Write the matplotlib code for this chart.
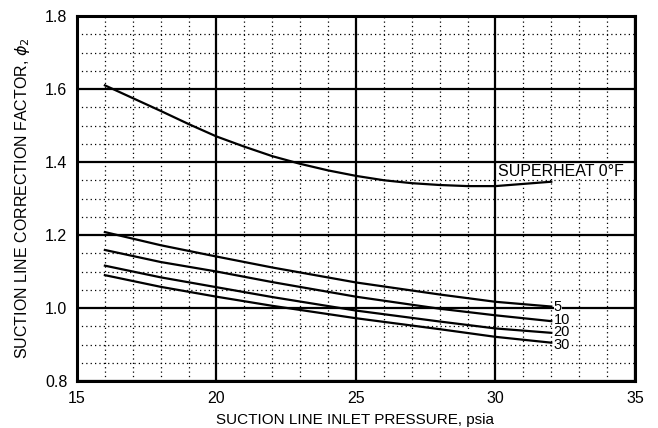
import numpy as np
import matplotlib
matplotlib.use('Agg')
import matplotlib.pyplot as plt
from matplotlib.ticker import MultipleLocator

plt.rcParams['font.family'] = ['Liberation Sans', 'DejaVu Sans']
plt.rcParams['mathtext.fontset'] = 'dejavusans'

#%% data
p_sh0 = [16, 17, 18, 19, 20, 21, 22, 23, 24, 25, 26, 27, 28, 29, 30, 31, 32]
phi_sh0 = [1.610, 1.575, 1.540, 1.504, 1.470, 1.442, 1.416, 1.395, 1.377,
           1.362, 1.350, 1.342, 1.337, 1.334, 1.334, 1.340, 1.346]

p_low = [16, 18, 20, 22, 25, 28, 30, 32]
phi_sh5 = [1.208, 1.172, 1.141, 1.111, 1.070, 1.037, 1.017, 1.004]
phi_sh10 = [1.159, 1.126, 1.100, 1.071, 1.031, 0.998, 0.980, 0.964]
phi_sh20 = [1.116, 1.084, 1.057, 1.030, 0.993, 0.963, 0.944, 0.932]
phi_sh30 = [1.090, 1.058, 1.031, 1.006, 0.972, 0.942, 0.921, 0.905]

low_labels = ['5', '10', '20', '30']
label_y = [1.003, 0.967, 0.933, 0.900]

#%% plot
fig = plt.figure(figsize=(6.58, 4.28), dpi=100)
ax = fig.add_axes([0.1170, 0.1098, 0.8480, 0.8528])

ax.set_xlim(15, 35)
ax.set_ylim(0.8, 1.8)
ax.xaxis.set_major_locator(MultipleLocator(5))
ax.xaxis.set_minor_locator(MultipleLocator(1))
ax.yaxis.set_major_locator(MultipleLocator(0.2))
ax.yaxis.set_minor_locator(MultipleLocator(0.05))
ax.yaxis.set_major_formatter(matplotlib.ticker.FormatStrFormatter('%.1f'))

ax.grid(which='major', color='black', linewidth=1.6, linestyle='-')
ax.grid(which='minor', color='black', linewidth=0.9, linestyle=(0, (1, 2.5)))
ax.set_axisbelow(True)
ax.tick_params(which='both', length=0)
ax.tick_params(axis='both', labelsize=11.5)
ax.tick_params(axis='x', pad=7)
ax.tick_params(axis='y', pad=7)

for s in ax.spines.values():
    s.set_linewidth(2.2)

ax.plot(p_sh0, phi_sh0, color='black', linewidth=1.6)
ax.text(30.1, 1.374, 'SUPERHEAT 0°F', fontsize=11.5, va='center', ha='left',
        bbox=dict(facecolor='white', edgecolor='none', pad=0.3))

lows = [phi_sh5, phi_sh10, phi_sh20, phi_sh30]
for ys, lab, ly in zip(lows, low_labels, label_y):
    ax.plot(p_low, ys, color='black', linewidth=1.6)
    ax.text(32.08, ly, lab, fontsize=10.5, va='center', ha='left',
            bbox=dict(facecolor='white', edgecolor='none', pad=0.0))

fig.text(0.54, 0.0095, 'SUCTION LINE INLET PRESSURE, psia', fontsize=11,
         ha='center', va='baseline')
ax.set_ylabel('SUCTION LINE CORRECTION FACTOR, $\\phi_2$', fontsize=11.5, labelpad=9)

fig.savefig('out.png', dpi=100)
